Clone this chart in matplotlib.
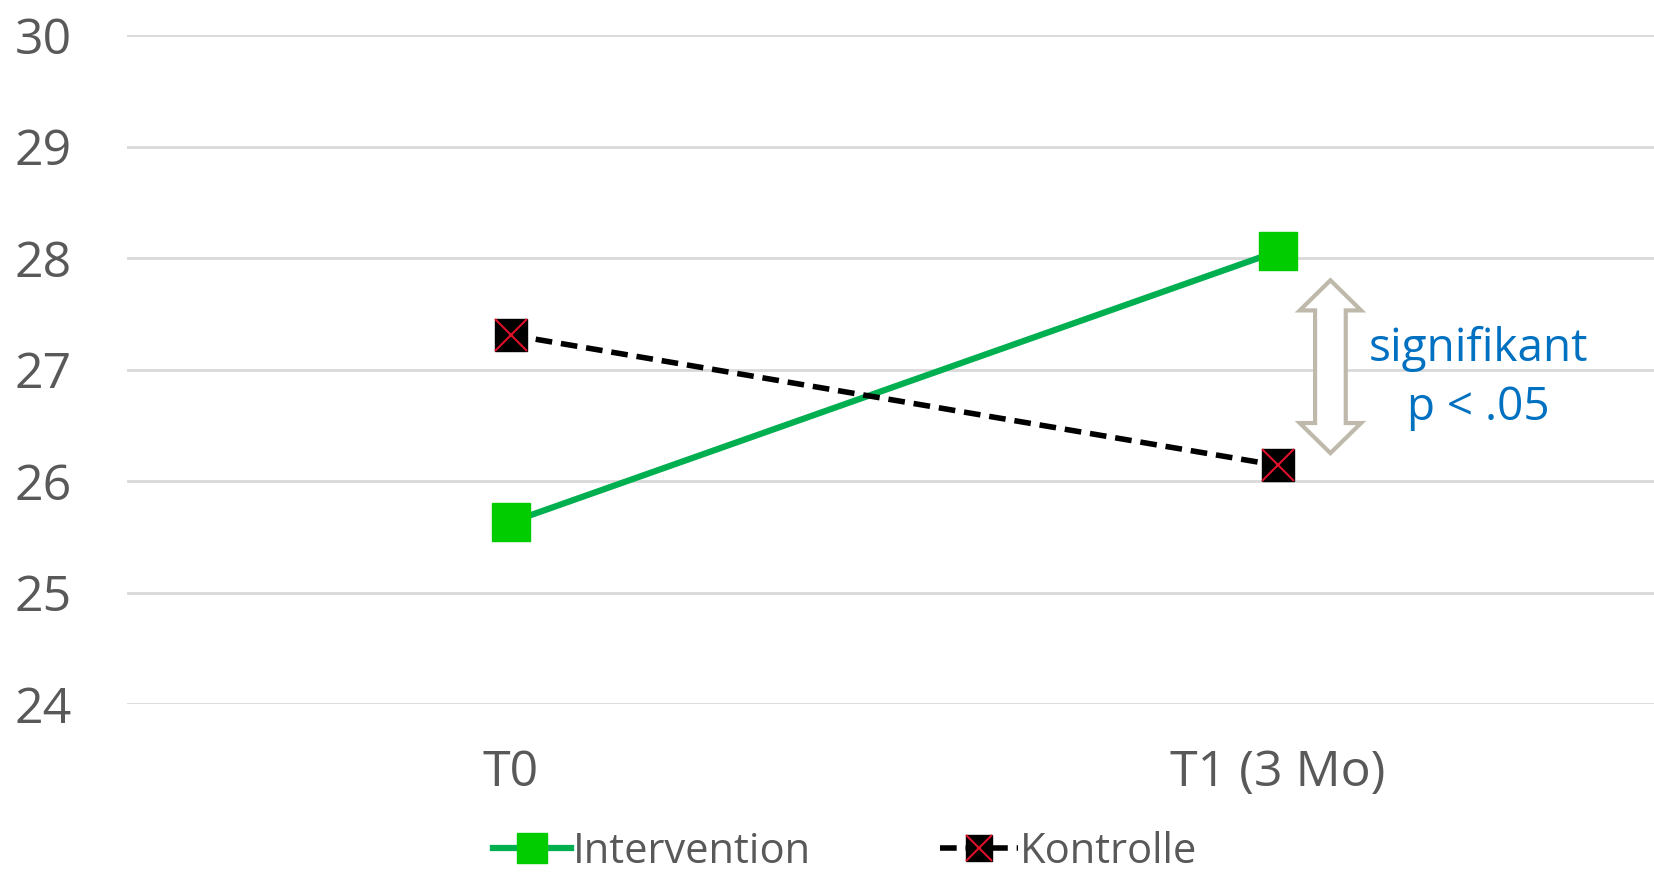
import matplotlib
matplotlib.use("Agg")
import matplotlib.pyplot as plt
from matplotlib.patches import Polygon

# data
categories = ["T0", "T1 (3 Mo)"]
intervention = [25.63, 28.06]
kontrolle = [27.31, 26.14]
y_ticks = [24, 25, 26, 27, 28, 29, 30]

# annotation (significance arrow between the T1 points)
arrow_top = 27.80
arrow_bottom = 26.25
sig_text = "signifikant\np < .05"

grey = "#595959"
plt.rcParams["font.family"] = ["Open Sans", "DejaVu Sans"]

fig = plt.figure(figsize=(16.54, 8.84), dpi=100)
ax = fig.add_axes([127 / 1654, 1 - 704 / 884, 1534 / 1654, 669 / 884])

x = list(range(len(categories)))
ax.plot(x, intervention, color="#00B050", lw=4.5, marker="s", ms=27,
        mfc="#00CC00", mec="#00CC00", zorder=3, label="Intervention")
ax.plot(x, kontrolle, color="black", lw=4, ls=(0, (3, 1.6)), marker="s", ms=23,
        mfc="black", mec="black", zorder=3, label="Kontrolle")
kx, = ax.plot(x, kontrolle, ls="none", marker="x", ms=23, mew=1.5,
              color="#E0102A", zorder=4)

# hollow double arrow
cx, hw, sw, hl = 1.069, 0.040, 0.020, 0.27
pts = [(cx, arrow_top), (cx + hw, arrow_top - hl), (cx + sw, arrow_top - hl),
       (cx + sw, arrow_bottom + hl), (cx + hw, arrow_bottom + hl), (cx, arrow_bottom),
       (cx - hw, arrow_bottom + hl), (cx - sw, arrow_bottom + hl),
       (cx - sw, arrow_top - hl), (cx - hw, arrow_top - hl)]
ax.add_patch(Polygon(pts, closed=True, fc="white", ec="#BFB9AC", lw=3, zorder=2))
ax.text(1.262, 26.92, sig_text, color="#0070C0", fontsize=33, ha="center",
        va="center", linespacing=1.38)

ax.set_xlim(-0.5, 1.5)
ax.set_ylim(24, 30)
ax.set_yticks(y_ticks)
ax.set_xticks(x)
ax.set_xticklabels(categories)
ax.grid(axis="y", color="#D9D9D9", lw=2)
ax.set_axisbelow(True)
for s in ax.spines.values():
    s.set_visible(False)
ax.tick_params(length=0, labelsize=36, colors=grey)
ax.tick_params(axis="y", pad=40)
ax.tick_params(axis="x", pad=32)

handles = [ax.lines[0], (ax.lines[1], kx)]
leg = fig.legend(handles, ["Intervention", "Kontrolle"], loc="lower center",
                 bbox_to_anchor=(0.511, -0.03), ncol=2, frameon=False,
                 fontsize=30, labelcolor=grey, markerscale=0.8,
                 handlelength=1.87, handletextpad=0.05, columnspacing=3.1)

fig.savefig("out.png", dpi=100)
